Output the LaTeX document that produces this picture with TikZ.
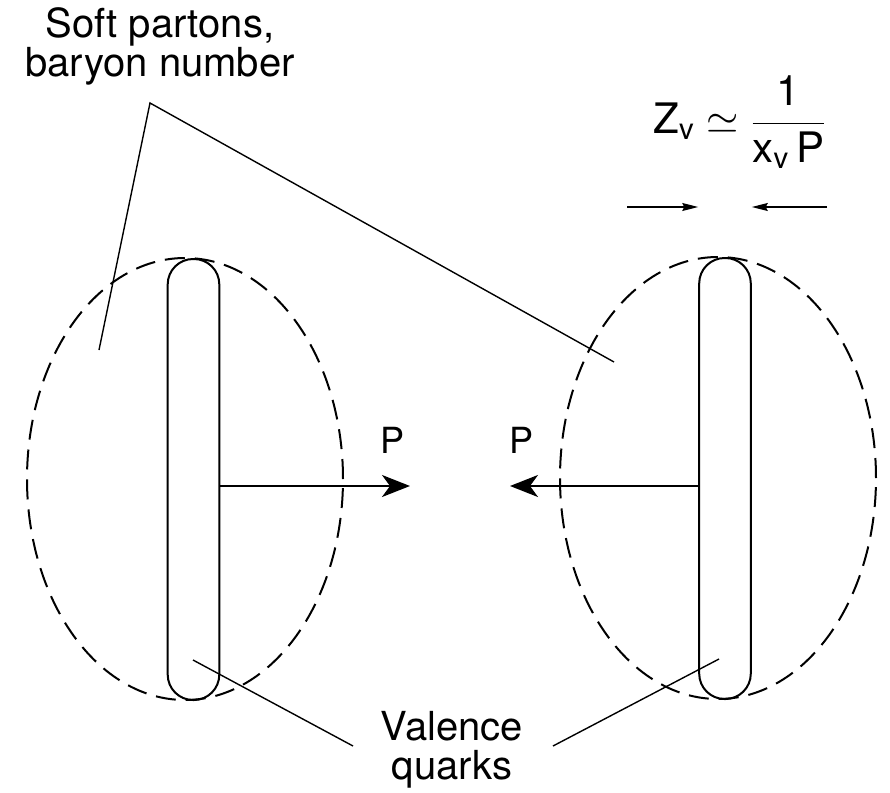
\documentclass[tikz,border=0pt]{standalone}
\usepackage{fontspec}
\setmainfont{TeX Gyre Heros}
\setsansfont{TeX Gyre Heros}
\usepackage{tikz}
\usetikzlibrary{shapes,shapes.geometric}
\usetikzlibrary{positioning,arrows.meta}
\tikzset{
  cloud/.style={draw,dashed,dash pattern=on 10pt off 5pt,line width=1pt,ellipse,
    minimum width=158pt,minimum height=221pt,inner sep=0pt},
  rod/.style={draw,line width=1pt,rounded corners=12.7pt,
    minimum width=25.8pt,minimum height=220.5pt,inner sep=0pt},
  lead/.style={line width=0.7pt},
  mom/.style={line width=1pt,-{Stealth[length=14pt,width=11pt,inset=4pt]}},
  size/.style={line width=0.6pt,-{Stealth[length=8pt,width=4pt,inset=1pt]}},
  lbl/.style={font=\fontsize{20}{19.5}\selectfont,align=center,inner sep=0pt}
}

\begin{document}
\begin{tikzpicture}[x=0.5pt,y=-0.5pt]
\useasboundingbox (0,0) rectangle (890,793);
% hadrons
\draw(185,479) node[cloud] (clL) {};
\draw(718,478) node[cloud] (clR) {};
\draw(193.5,479.5) node[rod] (rodL) {};
\draw(725,478.5) node[rod] (rodR) {};
% momenta
\coordinate (tipL) at (410,486);
\coordinate (tipR) at (510,486);
\draw[mom] (rodL.east |- tipL) -- (tipL);
\draw[mom] (rodR.west |- tipR) -- (tipR);
\draw(393,440) node[lbl,font=\fontsize{18}{18}\selectfont] (pL) {P};
\draw(522,440) node[lbl,font=\fontsize{18}{18}\selectfont] (pR) {P};
% labels
\draw(160,46) node[lbl] (soft) {Soft partons,\\baryon number};
\draw(452,750) node[lbl] (val) {Valence\\quarks};
\draw(740,122) node[lbl,font=\fontsize{21}{24}\selectfont] (zv)
  {$\mathrm{Z}_\mathrm{v}\simeq\displaystyle\frac{\mathrm{1}}{\mathrm{x}_\mathrm{v}\,\mathrm{P}}$};
% contraction
\coordinate (zl) at (627,207);
\coordinate (zr) at (827,207);
\draw[size] (zl) -- (rodR.west |- zl);
\draw[size] (zr) -- (rodR.east |- zr);
% leaders
\coordinate (apex) at (150,103);
\coordinate (inL) at (99,350);
\coordinate (inR) at (614,362);
\draw[lead] (inL) -- (apex) -- (inR);
\coordinate (qL) at (193,660);
\coordinate (qR) at (719,659);
\draw[lead] (qL) -- (353,746);
\draw[lead] (qR) -- (553,746);
\end{tikzpicture}
\end{document}
